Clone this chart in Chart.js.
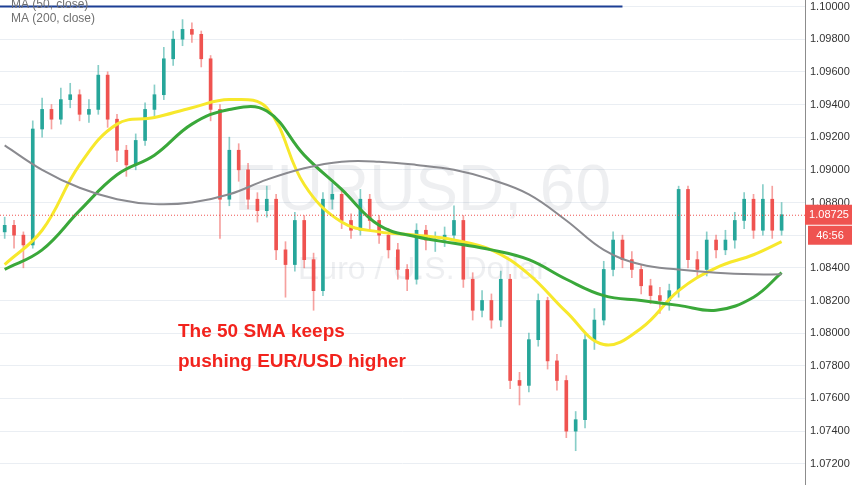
<!DOCTYPE html>
<html>
<head>
<meta charset="utf-8">
<script src="https://cdn.jsdelivr.net/npm/chart.js@4.4.0/dist/chart.umd.min.js"></script>
<style>
	html, body { margin: 0; padding: 0; background: #ffffff; }
	#wrap { width: 852px; height: 485px; }
</style>
</head>
<body>
<div id="wrap"><canvas id="chartPreview"></canvas></div>
<script>
	'use strict';

	const closes = [1.0866, 1.0860, 1.0854, 1.0925, 1.0937, 1.0931, 1.0943, 1.0946, 1.0934, 1.0937,
		1.0958, 1.0931, 1.0912, 1.0903, 1.0918, 1.0937, 1.0946, 1.0968, 1.0980, 1.0986,
		1.0983, 1.0968, 1.0937, 1.0882, 1.0912, 1.0900, 1.0882, 1.0875, 1.0882, 1.0851,
		1.0842, 1.0869, 1.0845, 1.0826, 1.0882, 1.0885, 1.0869, 1.0863, 1.0882, 1.0869,
		1.0860, 1.0851, 1.0839, 1.0833, 1.0863, 1.0857, 1.0857, 1.0860, 1.0869, 1.0833,
		1.0814, 1.0820, 1.0808, 1.0833, 1.0771, 1.0768, 1.0796, 1.0820, 1.0783, 1.0771,
		1.0740, 1.0747, 1.0796, 1.0808, 1.0839, 1.0857, 1.0845, 1.0839, 1.0829, 1.0823,
		1.0820, 1.0826, 1.0888, 1.0845, 1.0839, 1.0857, 1.0851, 1.0857, 1.0869, 1.0882,
		1.0863, 1.0882, 1.0863, 1.08725];
	const highs = [1.0871, 1.0869, 1.0862, 1.0930, 1.0944, 1.0940, 1.0950, 1.0953, 1.0949, 1.0943,
		1.0964, 1.0960, 1.0934, 1.0915, 1.0922, 1.0941, 1.0952, 1.0975, 1.0985, 1.0992,
		1.0990, 1.0985, 1.0970, 1.0940, 1.0920, 1.0916, 1.0904, 1.0886, 1.0890, 1.0885,
		1.0856, 1.0874, 1.0872, 1.0849, 1.0886, 1.0892, 1.0888, 1.0873, 1.0888, 1.0885,
		1.0872, 1.0864, 1.0855, 1.0842, 1.0867, 1.0866, 1.0862, 1.0865, 1.0878, 1.0872,
		1.0837, 1.0826, 1.0824, 1.0838, 1.0836, 1.0776, 1.0800, 1.0824, 1.0822, 1.0787,
		1.0774, 1.0752, 1.0800, 1.0815, 1.0844, 1.0862, 1.0860, 1.0850, 1.0842, 1.0833,
		1.0828, 1.0830, 1.0890, 1.0890, 1.0850, 1.0862, 1.0860, 1.0863, 1.0874, 1.0886,
		1.0885, 1.0891, 1.0890, 1.0880];
	const lows = [1.0858, 1.0852, 1.0840, 1.0852, 1.0920, 1.0925, 1.0928, 1.0938, 1.0930, 1.0929,
		1.0934, 1.0926, 1.0905, 1.0896, 1.0900, 1.0915, 1.0933, 1.0943, 1.0964, 1.0976,
		1.0978, 1.0963, 1.0930, 1.0858, 1.0878, 1.0893, 1.0876, 1.0868, 1.0871, 1.0845,
		1.0822, 1.0838, 1.0840, 1.0814, 1.0823, 1.0876, 1.0864, 1.0858, 1.0860, 1.0863,
		1.0855, 1.0846, 1.0833, 1.0826, 1.0830, 1.0851, 1.0850, 1.0853, 1.0857, 1.0828,
		1.0808, 1.0810, 1.0803, 1.0804, 1.0766, 1.0756, 1.0764, 1.0792, 1.0778, 1.0765,
		1.0736, 1.0728, 1.0742, 1.0790, 1.0805, 1.0835, 1.0840, 1.0834, 1.0824, 1.0818,
		1.0812, 1.0814, 1.0822, 1.0840, 1.0834, 1.0835, 1.0846, 1.0848, 1.0852, 1.0864,
		1.0858, 1.0860, 1.0858, 1.0860];
	const firstOpen = 1.0862;

	// moving averages, every 4th candle
	const maIndex = [0, 4, 8, 12, 16, 20, 24, 28, 32, 36, 40, 44, 48, 52, 56, 60, 64, 68, 72, 76, 80, 83];
	const ma50 = [1.0842, 1.0863, 1.0903, 1.0928, 1.0932, 1.0938, 1.0943, 1.0938, 1.0891, 1.0868, 1.0862,
		1.0860, 1.0857, 1.0851, 1.0836, 1.0813, 1.0793, 1.0803, 1.0826, 1.0840, 1.0848, 1.0856];
	const ma200 = [1.0839, 1.0851, 1.0875, 1.0897, 1.0909, 1.0928, 1.0937, 1.0936, 1.0909, 1.0888, 1.0866,
		1.0859, 1.0855, 1.0851, 1.0845, 1.0833, 1.0823, 1.0820, 1.0817, 1.0814, 1.0822, 1.0837];
	const maGray = [1.0915, 1.0900, 1.0889, 1.0882, 1.0879, 1.0880, 1.0885, 1.0894, 1.0901, 1.0905, 1.0905,
		1.0903, 1.0900, 1.0894, 1.0885, 1.0869, 1.0851, 1.0842, 1.0839, 1.0837, 1.0836, 1.0836];

	const yMin = 1.0707;
	const yMax = 1.1004;
	const tickStep = 0.002;
	const topLine = 1.1000;
	const topLineEnd = 66;
	const lastPrice = 1.08725;
	const countdown = '46:56';

	const UP = '#26a69a';
	const DOWN = '#ef5350';

	const labels = closes.map((c, i) => i).concat([closes.length, closes.length + 1]);
	const opens = closes.map((c, i) => i === 0 ? firstOpen : closes[i - 1]);
	const bodies = closes.map((c, i) => [opens[i], c]);
	const wicks = closes.map((c, i) => [lows[i], highs[i]]);
	const candleColors = closes.map((c, i) => c >= opens[i] ? UP : DOWN);
	const wickColors = closes.map((c, i) => c >= opens[i] ? 'rgba(38,166,154,0.55)' : 'rgba(239,83,80,0.55)');
	const toPoints = (arr) => arr.map((v, i) => ({ x: maIndex[i], y: v }));

	const overlay = {
		id: 'overlay',
		beforeDatasetsDraw(chart) {
			const ctx = chart.ctx;
			const area = chart.chartArea;
			ctx.save();
			ctx.fillStyle = 'rgba(120,130,150,0.13)';
			ctx.textAlign = 'center';
			ctx.textBaseline = 'middle';
			ctx.font = '64px "Liberation Sans", Arial, sans-serif';
			ctx.fillText('EURUSD, 60', (area.left + area.right) / 2 + 20, 192);
			ctx.font = '32px "Liberation Sans", Arial, sans-serif';
			ctx.fillText('Euro / U.S. Dollar', (area.left + area.right) / 2 + 20, 270);
			ctx.restore();
		},
		afterDatasetsDraw(chart) {
			const ctx = chart.ctx;
			const area = chart.chartArea;
			const x = chart.scales.x;
			const y = chart.scales.y;
			ctx.save();
			// last price line
			const py = y.getPixelForValue(lastPrice);
			ctx.strokeStyle = DOWN;
			ctx.lineWidth = 1;
			ctx.setLineDash([1, 2]);
			ctx.beginPath();
			ctx.moveTo(area.left, py + 0.5);
			ctx.lineTo(area.right, py + 0.5);
			ctx.stroke();
			ctx.setLineDash([]);
			// horizontal drawing at 1.10
			const ty = y.getPixelForValue(topLine);
			ctx.strokeStyle = '#1c3f94';
			ctx.lineWidth = 2;
			ctx.beginPath();
			ctx.moveTo(area.left, ty);
			ctx.lineTo(x.getPixelForValue(topLineEnd), ty);
			ctx.stroke();
			// legend
			ctx.fillStyle = '#707070';
			ctx.font = '12px "Liberation Sans", Arial, sans-serif';
			ctx.textAlign = 'left';
			ctx.textBaseline = 'middle';
			ctx.fillText('MA (50, close)', 11, 5);
			ctx.fillText('MA (200, close)', 11, 19);
			// annotation
			ctx.fillStyle = '#f2231d';
			ctx.font = 'bold 19px "Liberation Sans", Arial, sans-serif';
			ctx.fillText('The 50 SMA keeps', 178, 332);
			ctx.fillText('pushing EUR/USD higher', 178, 362);
			// price tags
			ctx.fillStyle = DOWN;
			ctx.fillRect(area.right, py - 10, 47, 20);
			ctx.fillRect(area.right + 3, py + 11, 44, 19);
			ctx.fillStyle = '#ffffff';
			ctx.font = '11px "Liberation Sans", Arial, sans-serif';
			ctx.textAlign = 'center';
			ctx.fillText(lastPrice.toFixed(5), area.right + 24, py);
			ctx.fillText(countdown, area.right + 25, py + 21);
			ctx.restore();
		}
	};

	const chart = new Chart(document.getElementById('chartPreview').getContext('2d'), {
		type: 'bar',
		data: {
			labels: labels,
			datasets: [
				{
					type: 'line',
					data: toPoints(maGray),
					borderColor: '#8a8a8f',
					borderWidth: 2,
					pointRadius: 0,
					tension: 0.4,
					order: 1
				},
				{
					type: 'line',
					data: toPoints(ma200),
					borderColor: '#3aa83a',
					borderWidth: 3,
					pointRadius: 0,
					tension: 0.4,
					order: 1
				},
				{
					type: 'line',
					data: toPoints(ma50),
					borderColor: '#f7e82c',
					borderWidth: 3,
					pointRadius: 0,
					tension: 0.4,
					order: 1
				},
				{
					data: bodies,
					backgroundColor: candleColors,
					barThickness: 3,
					grouped: false,
					order: 3
				},
				{
					data: wicks,
					backgroundColor: wickColors,
					barThickness: 1,
					grouped: false,
					order: 4
				}
			]
		},
		options: {
			responsive: true,
			maintainAspectRatio: false,
			animation: false,
			layout: { padding: 0 },
			plugins: {
				legend: { display: false },
				tooltip: { enabled: false }
			},
			scales: {
				x: {
					display: false,
					offset: true
				},
				y: {
					position: 'right',
					min: yMin,
					max: yMax,
					afterFit: (scale) => {
						scale.width = 47;
						scale.paddingTop = 0;
						scale.paddingBottom = 0;
					},
					afterBuildTicks: (scale) => {
						const ticks = [];
						for (let v = 1.072; v <= 1.1001; v += tickStep) ticks.push({ value: v });
						scale.ticks = ticks;
					},
					grid: { color: '#eaeef3', drawTicks: false },
					border: { display: true, color: '#8c8c8c' },
					ticks: {
						color: '#333333',
						padding: 5,
						font: { size: 11, family: '"Liberation Sans", Arial, sans-serif' },
						callback: (v) => v.toFixed(5)
					}
				}
			}
		},
		plugins: [overlay]
	});
</script>
</body>
</html>
